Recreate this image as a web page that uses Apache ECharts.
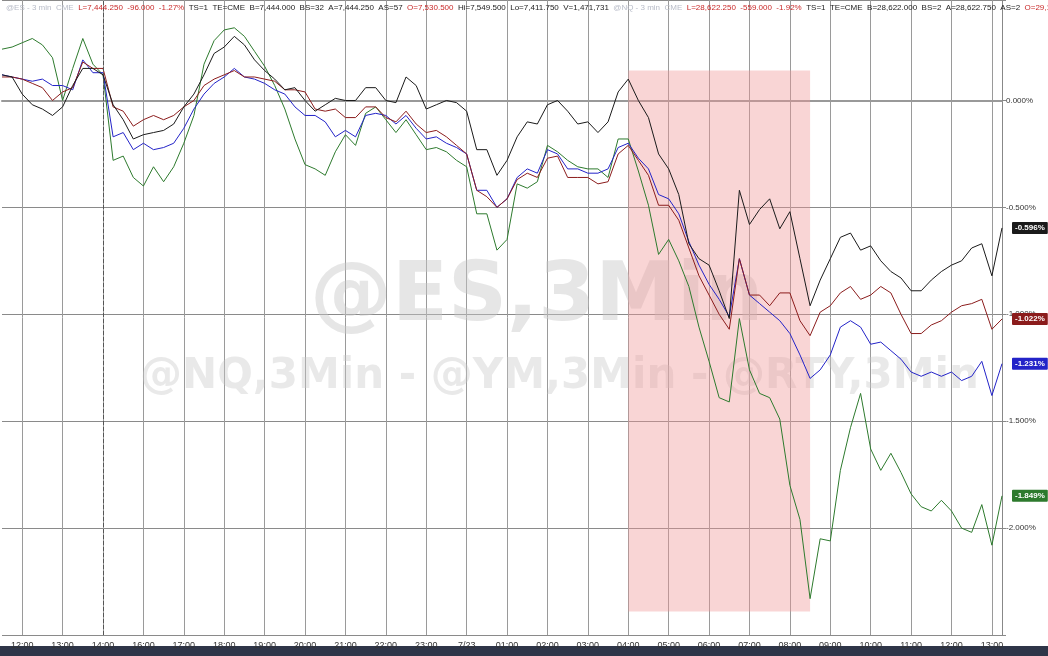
<!DOCTYPE html>
<html><head><meta charset="utf-8">
<script src="https://cdn.jsdelivr.net/npm/echarts@6/dist/echarts.min.js"></script>
<style>html,body{margin:0;padding:0;background:#fff}#c{width:1048px;height:656px}</style>
</head><body><div id="c"></div>
<script>
const hourLabels = ['12:00','13:00','14:00','16:00','17:00','18:00','19:00','20:00','21:00','22:00','23:00','7/23','01:00','02:00','03:00','04:00','05:00','06:00','07:00','08:00','09:00','10:00','11:00','12:00','13:00'];
const blackVals = [0.12,0.11,0.03,-0.02,-0.04,-0.07,-0.03,0.07,0.15,0.15,0.12,-0.02,-0.09,-0.18,-0.16,-0.15,-0.14,-0.11,-0.03,0.03,0.12,0.22,0.25,0.30,0.26,0.19,0.14,0.10,0.05,0.06,0.0,-0.05,-0.02,0.01,0.0,0.0,0.06,0.06,0.0,-0.01,0.11,0.07,-0.04,-0.02,0.0,-0.01,-0.05,-0.23,-0.23,-0.35,-0.28,-0.17,-0.10,-0.11,-0.02,0.0,-0.05,-0.11,-0.10,-0.15,-0.10,0.04,0.10,0.0,-0.08,-0.25,-0.32,-0.44,-0.67,-0.74,-0.77,-0.89,-1.02,-0.42,-0.58,-0.51,-0.46,-0.60,-0.52,-0.74,-0.96,-0.84,-0.74,-0.64,-0.62,-0.70,-0.68,-0.75,-0.80,-0.83,-0.89,-0.89,-0.84,-0.80,-0.77,-0.75,-0.69,-0.67,-0.82,-0.596];
const redVals = [0.11,0.11,0.10,0.08,0.06,0.0,0.04,0.06,0.18,0.15,0.15,-0.03,-0.05,-0.12,-0.09,-0.07,-0.09,-0.07,-0.03,0.0,0.07,0.10,0.12,0.14,0.11,0.11,0.10,0.09,0.05,0.05,0.04,-0.04,-0.05,-0.04,-0.08,-0.08,-0.03,-0.03,-0.08,-0.10,-0.05,-0.11,-0.15,-0.14,-0.17,-0.21,-0.25,-0.42,-0.45,-0.50,-0.46,-0.37,-0.34,-0.36,-0.27,-0.26,-0.36,-0.36,-0.36,-0.39,-0.38,-0.25,-0.21,-0.28,-0.35,-0.49,-0.49,-0.56,-0.69,-0.82,-0.91,-1.00,-1.07,-0.74,-0.91,-0.91,-0.96,-0.90,-0.90,-1.03,-1.10,-0.99,-0.96,-0.90,-0.87,-0.93,-0.91,-0.87,-0.90,-1.00,-1.09,-1.09,-1.05,-1.03,-0.99,-0.96,-0.95,-0.93,-1.07,-1.022];
const blueVals = [0.12,0.11,0.10,0.09,0.10,0.07,0.07,0.05,0.19,0.13,0.13,-0.17,-0.15,-0.23,-0.20,-0.23,-0.22,-0.20,-0.13,-0.04,0.03,0.08,0.11,0.15,0.11,0.10,0.08,0.05,0.03,-0.03,-0.07,-0.07,-0.10,-0.17,-0.14,-0.17,-0.07,-0.06,-0.07,-0.11,-0.07,-0.13,-0.18,-0.17,-0.20,-0.22,-0.25,-0.42,-0.42,-0.50,-0.46,-0.36,-0.32,-0.34,-0.23,-0.25,-0.32,-0.32,-0.34,-0.34,-0.32,-0.22,-0.20,-0.27,-0.32,-0.44,-0.46,-0.53,-0.66,-0.77,-0.86,-0.93,-1.01,-0.74,-0.91,-0.95,-0.99,-1.03,-1.09,-1.19,-1.30,-1.26,-1.19,-1.06,-1.03,-1.06,-1.14,-1.13,-1.17,-1.21,-1.27,-1.29,-1.27,-1.29,-1.27,-1.31,-1.29,-1.22,-1.38,-1.231];
const greenVals = [0.24,0.25,0.27,0.29,0.26,0.20,0.0,0.15,0.29,0.17,0.12,-0.28,-0.26,-0.36,-0.40,-0.31,-0.38,-0.31,-0.20,-0.07,0.17,0.28,0.33,0.34,0.30,0.23,0.16,0.07,-0.04,-0.18,-0.30,-0.32,-0.35,-0.24,-0.16,-0.21,-0.06,-0.03,-0.09,-0.15,-0.09,-0.16,-0.23,-0.22,-0.24,-0.28,-0.31,-0.53,-0.53,-0.70,-0.65,-0.39,-0.41,-0.38,-0.21,-0.24,-0.28,-0.31,-0.32,-0.32,-0.36,-0.18,-0.18,-0.33,-0.49,-0.72,-0.65,-0.75,-0.87,-1.06,-1.22,-1.39,-1.41,-1.02,-1.26,-1.37,-1.39,-1.49,-1.80,-1.96,-2.33,-2.05,-2.06,-1.73,-1.53,-1.37,-1.63,-1.73,-1.65,-1.74,-1.84,-1.90,-1.92,-1.87,-1.92,-2.00,-2.02,-1.89,-2.08,-1.849];
const seriesNames = ['@ES','@YM','@NQ','@RTY'];
const seriesColors = ['#1a1a1a','#8b1c1c','#2323c8','#2d7a2d'];
const endTexts = ['-0.596%','-1.022%','-1.231%','-1.849%'];

const cats = ['11:30','11:45'];
hourLabels.forEach((h,k)=>{ cats.push(h); ['15','30','45'].forEach(m=>cats.push(k+'|'+m)); });
const categories = cats.slice(0,100);

const chart = echarts.init(document.getElementById('c'));
const valsList = [blackVals, redVals, blueVals, greenVals];
const series = valsList.map((v,k)=>({
  name: seriesNames[k], type:'line', data:v, symbol:'none', z: 5-k,
  lineStyle:{width:1,color:seriesColors[k]}, itemStyle:{color:seriesColors[k]},
  endLabel:{show:true, formatter:endTexts[k], color:'#fff', backgroundColor:seriesColors[k],
    fontSize:8, fontWeight:'bold', fontFamily:'Liberation Sans', padding:[2,3], borderRadius:1, distance:10}
}));
series[0].markArea = {silent:true, itemStyle:{color:'rgba(240,150,150,0.4)'},
  data:[[{xAxis:62,yAxis:0.14},{xAxis:80,yAxis:-2.39}]]};
series[0].markLine = {silent:true, symbol:'none', label:{show:false},
  lineStyle:{color:'#555',type:'dashed',width:1}, data:[{xAxis:10}]};

const hdr = [
 ['g','@ES - 3 min  CME  '],['r','L=7,444.250  -96.000  -1.27%  '],['k','TS=1  TE=CME  B=7,444.000  BS=32  A=7,444.250  AS=57  '],
 ['r','O=7,530.500  '],['k','Hi=7,549.500  Lo=7,411.750  V=1,471,731  '],['g','@NQ - 3 min  CME  '],
 ['r','L=28,622.250  -559.000  -1.92%  '],['k','TS=1  TE=CME  B=28,622.000  BS=2  A=28,622.750  AS=2  '],['r','O=29,10...']
];
const fs = 8;
chart.setOption({
  animation:false,
  grid:{left:2,right:46,top:0,bottom:21},
  xAxis:{type:'category', data:categories, boundaryGap:false,
    axisLine:{show:true,lineStyle:{color:'#999',width:2}}, axisTick:{show:false},
    axisLabel:{interval:(i)=>(i-2)%4===0, formatter:(v)=>v.indexOf('|')>=0?'':v, fontSize:9, color:'#333', fontFamily:'Liberation Sans Narrow, Liberation Sans', margin:6},
    splitLine:{show:true, interval:(i)=>(i-2)%4===0, lineStyle:{color:'#9a9a9a',width:1}}},
  yAxis:{type:'value', position:'right', min:-2.5, max:0.47, interval:0.5,
    axisLine:{show:true,lineStyle:{color:'#888'}}, axisTick:{show:true,length:4,lineStyle:{color:'#888'}},
    axisLabel:{formatter:(v)=>(v>0.1||v<-2.1)?'':v.toFixed(3)+'%', fontSize:8, color:'#333', fontFamily:'Liberation Sans', margin:4},
    splitLine:{show:true,lineStyle:{color:'#8a8a8a',width:1}}},
  graphic:[
    {type:'rect', z:0, shape:{x:0,y:646,width:1048,height:10}, style:{fill:'#2e3548'}},
    {type:'text', z:1, left:310, top:258, style:{text:'@ES,3Min', font:'bold 82px "DejaVu Sans"', fill:'rgba(200,200,200,0.45)'}},
    {type:'text', z:1, left:140, top:356, style:{text:'@NQ,3Min - @YM,3Min - @RTY,3Min', font:'bold 42px "DejaVu Sans"', fill:'rgba(200,200,200,0.4)'}},
    {type:'text', z:10, left:6, top:4, style:{
      text: hdr.map(s=>'{'+s[0]+'|'+s[1]+'}').join(''),
      rich:{g:{fill:'#b8bcc8',fontSize:fs,fontFamily:'Liberation Sans'},r:{fill:'#c92a2a',fontSize:fs,fontFamily:'Liberation Sans'},k:{fill:'#222',fontSize:fs,fontFamily:'Liberation Sans'}}}}
  ],
  series
});
</script></body></html>
